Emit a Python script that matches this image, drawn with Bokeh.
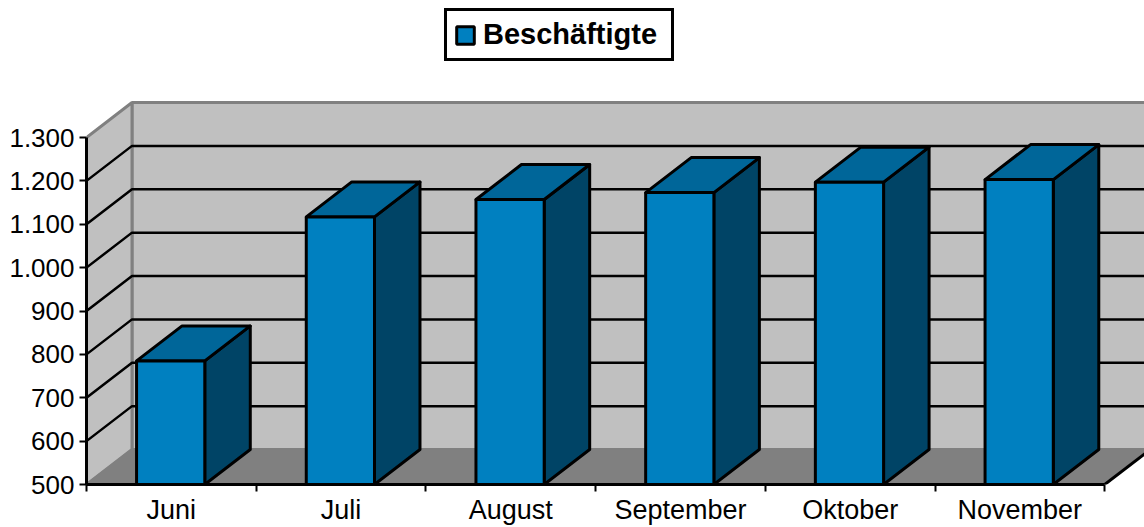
from bokeh.plotting import figure
from bokeh.embed import file_html
from bokeh.resources import INLINE
from bokeh.models import FixedTicker, Range1d, Legend, LegendItem

categories = ["Juni", "Juli", "August", "September", "Oktober", "November"]
beschaeftigte = [785, 1117, 1157, 1173, 1197, 1203]
y_ticks = [500, 600, 700, 800, 900, 1000, 1100, 1200, 1300]
y_labels = ["500", "600", "700", "800", "900", "1.000", "1.100", "1.200", "1.300"]
series_name = "Beschäftigte"

FRONT, TOP, SIDE = "#0080C0", "#006699", "#004466"
WALL, FLOOR, EDGE = "#C0C0C0", "#808080", "#808080"

W, H = 1144, 527
LEFT, BOTTOM = 86, 43
PX_X = 169.7            # pixels per category
PX_Y = 347.0 / 800.0    # pixels per unit
DX = 45.5 / PX_X        # 3D depth in data units
DY = 35 / PX_Y
BAR = 0.402
SHIFT = -0.004
N = len(categories)
Y0, Y1 = y_ticks[0], y_ticks[-1]

p = figure(width=W, height=H, output_backend="svg", toolbar_location=None,
           x_range=Range1d(0, (W - LEFT) / PX_X),
           y_range=Range1d(Y0, Y0 + (H - BOTTOM) / PX_Y),
           min_border_left=LEFT, min_border_bottom=BOTTOM,
           min_border_top=0, min_border_right=0,
           x_axis_location="below", y_axis_location="left")
p.outline_line_color = None
p.grid.visible = False
p.background_fill_color = "white"
p.border_fill_color = "white"

# walls and floor
p.patch([DX, DX, N + 2 * DX, N + 2 * DX], [Y0 + DY, Y1 + DY, Y1 + DY, Y0 + DY],
        fill_color=WALL, line_color=EDGE, line_width=3)
p.patch([0, 0, DX, DX], [Y0, Y1, Y1 + DY, Y0 + DY],
        fill_color=WALL, line_color=EDGE, line_width=3)
p.patch([0, N, N + DX, DX], [Y0, Y0, Y0 + DY, Y0 + DY],
        fill_color=FLOOR, line_color=EDGE, line_width=2)
p.line([N, N + DX], [Y0, Y0 + DY], line_color="black", line_width=3)

# gridlines
for v in y_ticks[1:-1]:
    p.line([0, DX, N + 2 * DX], [v, v + DY, v + DY], line_color="black", line_width=2.5)

# bars
label_pos = [i + 0.5 for i in range(N)]
centres = [c + SHIFT for c in label_pos]
for c, v in zip(centres, beschaeftigte):
    l, r = c - BAR / 2, c + BAR / 2
    p.patch([r, r + DX, r + DX, r], [Y0, Y0 + DY, v + DY, v],
            fill_color=SIDE, line_color="black", line_width=3, line_join="round")
    p.patch([l, l + DX, r + DX, r], [v, v + DY, v + DY, v],
            fill_color=TOP, line_color="black", line_width=3, line_join="round")
front = p.vbar(x=centres, top=beschaeftigte, bottom=Y0, width=BAR,
               fill_color=FRONT, line_color="black", line_width=3)

# axes
xa = p.xaxis[0]
xa.ticker = FixedTicker(ticks=label_pos, minor_ticks=list(range(N + 1)))
xa.major_label_overrides = {c: n for c, n in zip(label_pos, categories)}
xa.major_tick_line_color = None
xa.major_tick_out = 0
xa.major_tick_in = 0
xa.minor_tick_out = 7
xa.minor_tick_in = 0
xa.minor_tick_line_color = "black"
xa.minor_tick_line_width = 2
xa.axis_line_color = "black"
xa.axis_line_width = 3
xa.bounds = (0, N)
xa.major_label_text_font = "Liberation Sans"
xa.major_label_text_font_size = "27px"
xa.major_label_text_color = "black"
xa.major_label_standoff = 3

ya = p.yaxis[0]
ya.ticker = FixedTicker(ticks=y_ticks)
ya.major_label_overrides = dict(zip(y_ticks, y_labels))
ya.major_tick_out = 7
ya.major_tick_in = 0
ya.minor_tick_line_color = None
ya.major_tick_line_color = "black"
ya.major_tick_line_width = 2
ya.axis_line_color = "black"
ya.axis_line_width = 3
ya.bounds = (Y0, Y1)
ya.major_label_text_font = "Liberation Sans"
ya.major_label_text_font_size = "26px"
ya.major_label_text_color = "black"
ya.major_label_standoff = 5

# legend
legend = Legend(items=[LegendItem(label=series_name, renderers=[front])],
                location=(358, 423), orientation="horizontal",
                border_line_color="black", border_line_width=3, border_line_alpha=1,
                background_fill_color="white", background_fill_alpha=1,
                label_text_font="Liberation Sans", label_text_font_style="bold",
                label_text_font_size="29px", label_text_color="black",
                glyph_width=22, glyph_height=22, label_standoff=7, label_width=181,
                padding=7, margin=0, spacing=0)
p.add_layout(legend, "center")

open("out.html", "w").write(file_html(p, INLINE))
